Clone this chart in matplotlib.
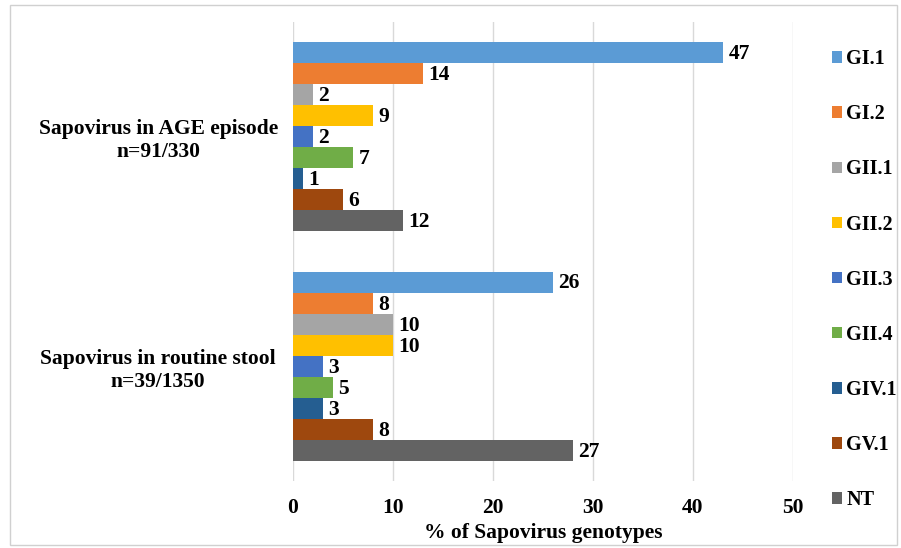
import numpy as np
import matplotlib
matplotlib.use('Agg')
import matplotlib.pyplot as plt
from matplotlib.patches import Rectangle

plt.rcParams.update({
    'font.family': 'Liberation Serif', 'font.weight': 'bold', 'font.size': 15.5,
})

groups = ['Sapovirus in AGE episode\nn=91/330', 'Sapovirus in routine stool\nn=39/1350']
genotypes = ['GI.1', 'GI.2', 'GII.1', 'GII.2', 'GII.3', 'GII.4', 'GIV.1', 'GV.1', 'NT']
colors = ['#5B9BD5', '#ED7D31', '#A5A5A5', '#FFC000', '#4472C4',
          '#70AD47', '#255E91', '#9E480E', '#636363']

# bar lengths as drawn (% of Sapovirus genotypes)
age_vals = [43, 13, 2, 8, 2, 6, 1, 5, 11]
routine_vals = [26, 8, 10, 10, 3, 4, 3, 8, 28]
# data labels printed next to the bars
age_labels = ['47', '14', '2', '9', '2', '7', '1', '6', '12']
routine_labels = ['26', '8', '10', '10', '3', '5', '3', '8', '27']

fig = plt.figure(figsize=(9.01, 5.48), dpi=100)
fig.patches.append(Rectangle((10/901, 3/548), 887/901, 540/548, transform=fig.transFigure,
                             fill=False, edgecolor='#D0D0D0', lw=1))
ax = fig.add_axes([293/901, 1 - 481/548, 500/901, 459/548])

n = len(genotypes)
h = 21 / 229
yc = np.arange(len(groups))
for i, (g, c) in enumerate(zip(genotypes, colors)):
    y = yc + (i - (n - 1) / 2) * h
    vals = [age_vals[i], routine_vals[i]]
    labs = [age_labels[i], routine_labels[i]]
    ax.barh(y, vals, height=h, color=c, label=g, zorder=3)
    for yy, v, t in zip(y, vals, labs):
        ax.annotate(t, xy=(v, yy), xytext=(4, -1), textcoords='offset points',
                    va='center', ha='left', fontsize=15.5, fontweight='bold')

ax.set_xlim(0, 50)
ax.set_ylim(len(groups) - 0.5, -0.5)
ax.set_xticks(range(0, 51, 10))
ax.set_yticks(yc)
ax.set_yticklabels(groups, ha='center', fontsize=15.5, fontweight='bold')
ax.tick_params(axis='y', length=0, pad=97)
ax.tick_params(axis='x', length=0, pad=12, labelsize=15.5)
ax.grid(True, axis='x', color='#D9D9D9', lw=1, zorder=0)
for s in ax.spines.values():
    s.set_visible(False)
ax.set_xlabel('% of Sapovirus genotypes', fontsize=15.5, fontweight='bold', labelpad=4)

fig.legend(loc='upper left', bbox_to_anchor=(814/901, 1 - 31/548), frameon=False,
           handlelength=0.5, handleheight=0.5, handletextpad=0.2,
           labelspacing=1.745, fontsize=14.5)

fig.savefig('out.png', dpi=100)
